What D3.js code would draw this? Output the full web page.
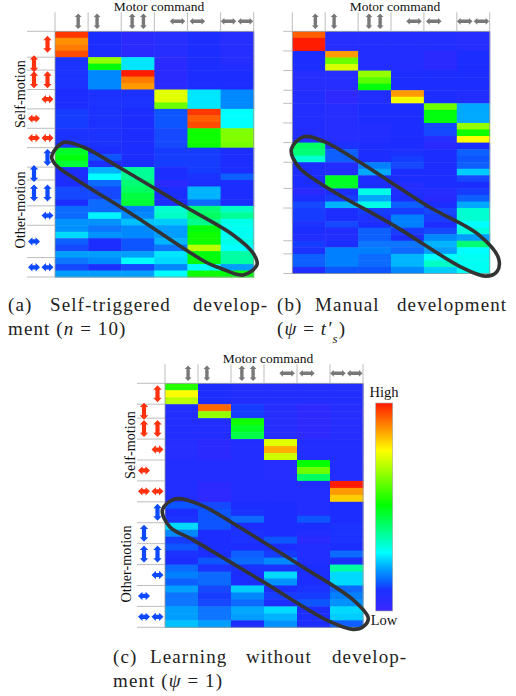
<!DOCTYPE html>
<html>
<head>
<meta charset="utf-8">
<script src="https://cdn.jsdelivr.net/npm/d3@7"></script>
<style>
html, body { margin: 0; padding: 0; background: #fff; }
svg { display: block; }
text { font-family: "Liberation Serif", serif; fill: #111; }
.caption { font-size: 19px; letter-spacing: 1.1px; fill: #222; }
</style>
</head>
<body>
<div id="display"></div>
<script>
var width = 516, height = 696;

// cell values, 0 = low, 1 = high. one row per line, six motor commands
var panelA = [
    [.97, .09, .05, .06, .09, .06],
    [.88, .09, .05, .06, .09, .06],
    [.90, .09, .05, .06, .09, .06],
    [.95, .09, .05, .06, .09, .06],
    [.10, .66, .26, .05, .09, .07],
    [.10, .50, .26, .05, .09, .08],
    [.10, .18, 1.0, .05, .09, .09],
    [.10, .18, .90, .05, .09, .09],
    [.10, .18, .87, .05, .09, .09],
    [.09, .10, .10, .74, .26, .18],
    [.09, .10, .10, .74, .26, .18],
    [.09, .10, .10, .62, .26, .18],
    [.11, .10, .09, .13, .97, .28],
    [.11, .10, .09, .13, .93, .28],
    [.11, .10, .09, .13, .95, .28],
    [.10, .10, .09, .12, .52, .64],
    [.10, .10, .09, .12, .52, .64],
    [.10, .10, .09, .12, .52, .63],
    [.47, .09, .09, .11, .11, .09],
    [.50, .13, .09, .11, .11, .09],
    [.46, .09, .09, .11, .11, .09],
    [.09, .22, .37, .09, .11, .09],
    [.09, .28, .37, .09, .10, .14],
    [.09, .15, .40, .05, .09, .09],
    [.12, .12, .42, .09, .22, .09],
    [.12, .12, .45, .09, .22, .09],
    [.09, .15, .46, .09, .15, .09],
    [.15, .15, .17, .32, .40, .33],
    [.15, .27, .18, .33, .42, .37],
    [.19, .19, .23, .24, .38, .30],
    [.19, .16, .18, .20, .50, .29],
    [.25, .19, .18, .20, .52, .29],
    [.14, .09, .13, .22, .52, .30],
    [.12, .09, .13, .16, .70, .28],
    [.20, .20, .20, .26, .50, .36],
    [.16, .18, .28, .25, .50, .36],
    [.12, .09, .12, .18, .28, .20],
    [.20, .20, .20, .28, .52, .50]
];
var panelB = [
    [.93, .07, .08, .08, .08, .07],
    [1.0, .07, .08, .08, .08, .07],
    [1.0, .07, .08, .08, .08, .07],
    [.09, .87, .08, .08, .05, .09],
    [.09, .62, .08, .08, .05, .09],
    [.09, .73, .08, .08, .05, .09],
    [.06, .07, .66, .09, .09, .09],
    [.06, .07, .60, .09, .09, .09],
    [.06, .07, .50, .09, .09, .09],
    [.08, .04, .08, .87, .09, .08],
    [.08, .04, .08, .76, .09, .08],
    [.08, .07, .09, .09, .62, .21],
    [.08, .07, .09, .09, .50, .21],
    [.08, .07, .09, .09, .50, .21],
    [.08, .07, .08, .09, .12, .66],
    [.08, .07, .08, .09, .12, .52],
    [.08, .07, .08, .09, .06, .77],
    [.42, .10, .09, .09, .05, .09],
    [.40, .14, .09, .10, .09, .14],
    [.32, .14, .09, .11, .09, .13],
    [.09, .08, .17, .12, .09, .14],
    [.09, .08, .21, .09, .09, .24],
    [.09, .48, .09, .09, .09, .12],
    [.09, .47, .09, .07, .09, .09],
    [.05, .09, .30, .08, .07, .11],
    [.09, .11, .21, .09, .05, .14],
    [.12, .22, .30, .14, .09, .21],
    [.11, .09, .11, .11, .12, .32],
    [.11, .09, .10, .17, .11, .32],
    [.10, .12, .09, .17, .09, .28],
    [.09, .08, .14, .11, .12, .31],
    [.08, .08, .14, .09, .18, .20],
    [.11, .09, .16, .16, .22, .40],
    [.10, .17, .17, .15, .20, .28],
    [.14, .17, .15, .22, .28, .29],
    [.14, .17, .15, .22, .33, .29],
    [.08, .13, .13, .18, .24, .29]
];
var panelC = [
    [.55, .09, .08, .08, .08, .08],
    [.77, .09, .08, .08, .08, .08],
    [.70, .09, .08, .08, .08, .08],
    [.08, .92, .11, .06, .04, .06],
    [.08, .66, .11, .06, .04, .06],
    [.08, .08, .52, .06, .04, .07],
    [.08, .08, .48, .06, .04, .07],
    [.08, .08, .44, .06, .04, .07],
    [.07, .05, .08, .74, .08, .08],
    [.07, .05, .08, .85, .08, .08],
    [.07, .05, .08, .72, .08, .08],
    [.08, .08, .08, .07, .51, .08],
    [.08, .08, .08, .07, .62, .08],
    [.08, .08, .08, .07, .42, .08],
    [.08, .05, .08, .08, .08, 1.0],
    [.08, .04, .08, .08, .08, .87],
    [.08, .04, .08, .08, .08, .82],
    [.13, .12, .09, .09, .08, .09],
    [.09, .13, .10, .09, .08, .09],
    [.10, .13, .15, .09, .13, .09],
    [.25, .13, .09, .09, .09, .10],
    [.18, .09, .10, .09, .08, .10],
    [.11, .09, .10, .13, .05, .10],
    [.13, .09, .09, .09, .08, .09],
    [.10, .09, .14, .11, .08, .15],
    [.09, .13, .15, .18, .08, .09],
    [.15, .10, .10, .10, .09, .36],
    [.17, .15, .09, .25, .09, .25],
    [.14, .15, .09, .19, .09, .25],
    [.20, .12, .24, .09, .10, .15],
    [.16, .11, .18, .11, .11, .17],
    [.16, .12, .15, .09, .13, .19],
    [.20, .16, .21, .25, .09, .25],
    [.20, .16, .20, .22, .09, .24],
    [.23, .20, .09, .19, .09, .14]
];

// how many rows belong to each motion label, top to bottom
var groupsA = [4, 2, 3, 3, 3, 3, 3, 2, 4, 3, 5, 3];
var groupsB = [3, 3, 3, 2, 3, 3, 3, 4, 3, 5, 2, 3];
var groupsC = [3, 2, 3, 3, 3, 3, 3, 3, 3, 3, 3, 3];

// outline of the hand drawn ring, [column, row]
var ringA = [[-.1, 19.4], [.25, 17.2], [.85, 17.9], [1.96, 21.1], [3.99, 27.3], [5.38, 31.5], [5.98, 34.3], [6.1, 36.1], [5.68, 37.7], [4.98, 36.6], [4.59, 35.8], [2.36, 28.4], [.76, 23.3], [.03, 20.7]];
var ringB = [[-.03, 18], [.35, 16.1], [.99, 16.9], [2.02, 19.9], [4.15, 26.8], [5.67, 31.1], [6.27, 34.7], [6.22, 36.7], [5.87, 37.4], [5.16, 36.1], [3.13, 29.8], [1, 23.7], [.19, 20.7]];
var ringC = [[-.08, 18.2], [.3, 16.6], [1.06, 17.4], [2.07, 20.1], [4.09, 26.1], [5.71, 31.1], [6.16, 33.7], [6.01, 34.9], [5.7, 35.3], [5, 34.2], [2.88, 28.2], [.86, 22.5], [.15, 20.6]];

// arrow kinds over the columns and beside the row groups
var columnIcons = [
    { col: 0, at: .7, dir: 'v' }, { col: 1, at: .27, dir: 'v' },
    { col: 2, at: .33, dir: 'v' }, { col: 2, at: .67, dir: 'v' },
    { col: 3, at: .7, dir: 'h' }, { col: 4, at: .3, dir: 'h' },
    { col: 5, at: .24, dir: 'h' }, { col: 5, at: .75, dir: 'h' }];
var groupIcons = [
    { dir: 'v', slots: [0] }, { dir: 'v', slots: [1] }, { dir: 'v', slots: [0, 1] },
    { dir: 'h', slots: [0] }, { dir: 'h', slots: [1] }, { dir: 'h', slots: [0, 1] }];

var colorStops = [0, .1, .14, .21, .28, .39, .51, .77, .88, 1];
var colorValues = ['#3a28ff', '#1c30ff', '#0a60ff', '#00a8ff', '#00ffff', '#00ff80', '#00ff00', '#ffff00', '#ff9000', '#ff1a00'];
var color = d3.scaleLinear().domain(colorStops).range(colorValues);

var svg = d3.select("#display")
    .append("svg")
    .attr("width", width)
    .attr("height", height);

var defs = svg.append('defs');
defs.append('filter').attr('id', 'soft').append('feGaussianBlur').attr('stdDeviation', .5);
defs.append('filter').attr('id', 'softer').append('feGaussianBlur').attr('stdDeviation', .3);

var grad = defs.append('linearGradient').attr('id', 'bar')
    .attr('x1', 0).attr('x2', 0).attr('y1', 1).attr('y2', 0);
colorStops.forEach(function (d, i) {
    grad.append('stop').attr('offset', d).attr('stop-color', colorValues[i]);
});

// double headed arrow, centred on 0,0
function arrowPath(dir, len, w) {
    var h = len / 2, a = w, s = w * .5, b = a * 1.05;
    var pts = [[0, -h], [a, -h + b], [s, -h + b], [s, h - b], [a, h - b], [0, h],
        [-a, h - b], [-s, h - b], [-s, -h + b], [-a, -h + b]];
    if (dir == 'h') { pts = pts.map(function (p) { return [p[1], p[0]]; }); }
    return 'M' + pts.join('L') + 'Z';
}

function drawPanel(opt) {
    var g = svg.append('g');
    var x = d3.scaleBand().domain(d3.range(6)).range([opt.left, opt.right]);
    var y = d3.scaleBand().domain(d3.range(opt.values.length)).range([opt.top, opt.bottom]);
    var ringX = d3.scaleLinear().domain([0, 6]).range([opt.left, opt.right]);
    var ringY = d3.scaleLinear().domain([0, opt.values.length]).range([opt.top, opt.bottom]);

    var cells = [];
    opt.values.forEach(function (row, r) {
        row.forEach(function (v, c) { cells.push({ r: r, c: c, v: v }); });
    });
    g.append('g').attr('filter', 'url(#softer)').selectAll('rect')
        .data(cells)
        .enter()
        .append('rect')
        .attr('x', function (d) { return x(d.c); })
        .attr('y', function (d) { return y(d.r); })
        .attr('width', x.bandwidth() + .5)
        .attr('height', y.bandwidth() + .5)
        .attr('fill', function (d) { return color(d.v); });

    g.append('rect')
        .attr('x', opt.left).attr('y', opt.top)
        .attr('width', opt.right - opt.left).attr('height', opt.bottom - opt.top)
        .attr('fill', 'none').attr('stroke', '#9a9a9a').attr('stroke-width', .8);

    // column separators over the heatmap
    g.selectAll('.colLine')
        .data(d3.range(7))
        .enter()
        .append('line')
        .attr('x1', function (d) { return opt.left + d * x.bandwidth(); })
        .attr('x2', function (d) { return opt.left + d * x.bandwidth(); })
        .attr('y1', opt.top - 19).attr('y2', opt.top)
        .attr('stroke', '#bdbdbd').attr('stroke-width', 1);

    // row group separators
    var start = 0, groups = [];
    opt.groups.forEach(function (n) {
        groups.push({ first: start, n: n });
        start += n;
    });
    var edges = groups.map(function (d) { return d.first; }).concat([start]);
    g.selectAll('.rowLine')
        .data(edges)
        .enter()
        .append('line')
        .attr('x1', opt.left - opt.tick).attr('x2', opt.left)
        .attr('y1', function (d) { return ringY(d); })
        .attr('y2', function (d) { return ringY(d); })
        .attr('stroke', '#bdbdbd').attr('stroke-width', 1);

    // grey arrows on the top
    g.append('g').attr('filter', 'url(#soft)').selectAll('path')
        .data(columnIcons)
        .enter()
        .append('path')
        .attr('transform', function (d) {
            return 'translate(' + (x(d.col) + d.at * x.bandwidth()) + ',' + (opt.top - 10) + ')';
        })
        .attr('d', function (d) { return d.dir == 'v' ? arrowPath('v', 15.5, 3.4) : arrowPath('h', 15.5, 3.4); })
        .attr('fill', '#787878');

    // red and blue arrows on the left
    if (opt.icons) {
        var icons = [];
        groups.forEach(function (d, i) {
            var kind = groupIcons[i % 6];
            kind.slots.forEach(function (s) {
                icons.push({
                    dir: kind.dir,
                    slot: s,
                    cy: ringY(d.first + d.n / 2),
                    fill: i < 6 ? '#ff3010' : '#0a48ff'
                });
            });
        });
        g.append('g').attr('filter', 'url(#soft)').selectAll('path')
            .data(icons)
            .enter()
            .append('path')
            .attr('transform', function (d) {
                return 'translate(' + (opt.left - (d.slot == 0 ? 7.5 : 21)) + ',' + d.cy + ')';
            })
            .attr('d', function (d) { return d.dir == 'v' ? arrowPath('v', 17, 4.2) : arrowPath('h', 12, 4.2); })
            .attr('fill', function (d) { return d.fill; });

        opt.sideLabels.forEach(function (d) {
            g.append('text')
                .attr('transform', 'translate(' + d.x + ',' + d.y + ') rotate(-90)')
                .attr('text-anchor', 'middle')
                .attr('font-size', 14.2)
                .text(d.text);
        });
    }

    g.append('text')
        .attr('x', opt.titleX).attr('y', opt.top - 20)
        .attr('text-anchor', 'middle')
        .attr('font-size', 13.5)
        .text('Motor command');

    var line = d3.line()
        .x(function (d) { return ringX(d[0]); })
        .y(function (d) { return ringY(d[1]); })
        .curve(d3.curveCatmullRomClosed.alpha(.5));
    g.append('path')
        .attr('d', line(opt.ring))
        .attr('fill', 'none')
        .attr('stroke', '#333')
        .attr('stroke-width', 3.6);
}

drawPanel({
    values: panelA, groups: groupsA, ring: ringA, icons: true, tick: 28,
    left: 55, right: 253.7, top: 31.3, bottom: 277, titleX: 159,
    sideLabels: [{ text: 'Self-motion', x: 25, y: 94 }, { text: 'Other-motion', x: 25, y: 210 }]
});
drawPanel({
    values: panelB, groups: groupsB, ring: ringB, icons: false, tick: 9,
    left: 292.3, right: 489.7, top: 31.3, bottom: 273.5, titleX: 395
});
drawPanel({
    values: panelC, groups: groupsC, ring: ringC, icons: true, tick: 28,
    left: 165, right: 363, top: 383.3, bottom: 627.3, titleX: 268,
    sideLabels: [{ text: 'Self-motion', x: 135, y: 445 }, { text: 'Other-motion', x: 131, y: 564 }]
});

// colour bar
svg.append('rect')
    .attr('x', 375.7).attr('y', 403)
    .attr('width', 17).attr('height', 208)
    .attr('fill', 'url(#bar)')
    .attr('stroke', '#aaa').attr('stroke-width', .6);
svg.append('text').attr('x', 384).attr('y', 397).attr('text-anchor', 'middle').attr('font-size', 14.5).text('High');
svg.append('text').attr('x', 384).attr('y', 625).attr('text-anchor', 'middle').attr('font-size', 14.5).text('Low');

// captions, words spread out to the justified width
var captionWords = [
    { t: '(a)', x: 8, y: 311 }, { t: 'Self-triggered', x: 50, y: 311 }, { t: 'develop-', x: 193, y: 311 },
    { t: '(b)', x: 277, y: 311 }, { t: 'Manual', x: 315, y: 311 }, { t: 'development', x: 397, y: 311 },
    { t: '(c)', x: 113, y: 663 }, { t: 'Learning', x: 150, y: 663 }, { t: 'without', x: 246, y: 663 }, { t: 'develop-', x: 332, y: 663 }
];
svg.selectAll('.caption')
    .data(captionWords)
    .enter()
    .append('text')
    .attr('class', 'caption')
    .attr('x', function (d) { return d.x; })
    .attr('y', function (d) { return d.y; })
    .text(function (d) { return d.t; });

function mathCaption(xPos, yPos, parts) {
    var t = svg.append('text').attr('class', 'caption').attr('x', xPos).attr('y', yPos);
    parts.forEach(function (p) {
        var s = t.append('tspan').text(p.t);
        if (p.i) { s.attr('font-style', 'italic'); }
        if (p.sub) { s.attr('baseline-shift', 'sub').attr('font-size', 13); }
    });
}
mathCaption(8, 335, [{ t: 'ment (' }, { t: 'n', i: true }, { t: ' = 10)' }]);
mathCaption(277, 335, [{ t: '(' }, { t: 'ψ', i: true }, { t: ' = ' }, { t: 't′', i: true }, { t: 's', i: true, sub: true }, { t: ')' }]);
mathCaption(113, 687, [{ t: 'ment (' }, { t: 'ψ', i: true }, { t: ' = 1)' }]);
</script>
</body>
</html>
